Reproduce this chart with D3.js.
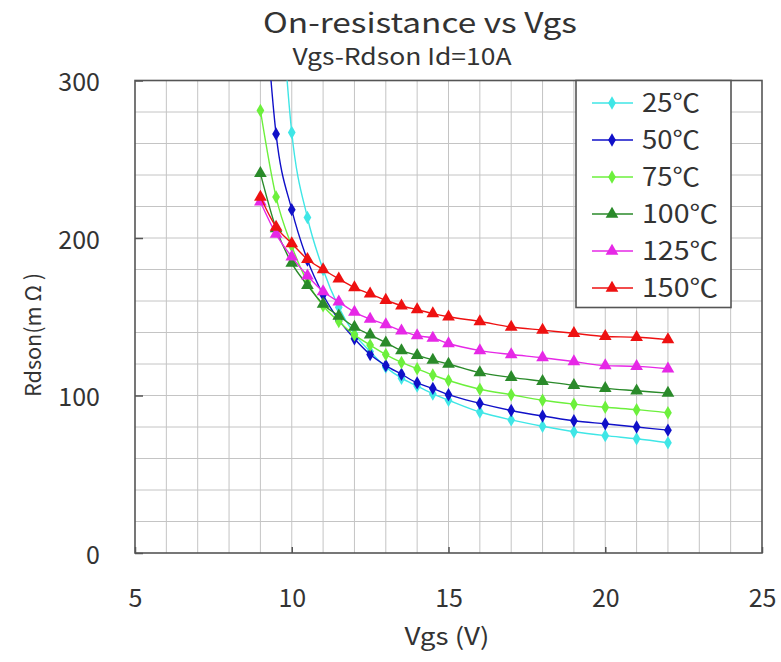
<!DOCTYPE html>
<html>
<head>
<meta charset="utf-8">
<script src="https://cdn.jsdelivr.net/npm/d3@7"></script>
<style>
  body { margin: 0; background: #fff; }
  text { font-family: "Noto Sans CJK JP", "Noto Sans", sans-serif; fill: #333; }
</style>
</head>
<body>
<div id="chart"></div>
<script>
// Vgs (V) sample points
const vgs = [9, 9.5, 10, 10.5, 11, 11.5, 12, 12.5, 13, 13.5, 14, 14.5, 15, 16, 17, 18, 19, 20, 21, 22];

// Rdson (mOhm) per temperature
const r25  = [null, 400, 267, 213, 180, 156, 139, 128, 118, 111, 106, 101, 97, 89.5, 84.5, 80.5, 77, 74.5, 72.5, 70];
const r50  = [390, 266, 218, 186, 164, 148, 136, 126, 119, 113.5, 108, 104.5, 100.5, 95, 90.5, 87, 84, 82, 80, 78];
const r75  = [281, 226, 195, 172, 157, 147, 138.5, 132, 126, 121, 117, 113, 109.5, 104, 100.5, 97, 94.5, 92.5, 91, 89];
const r100 = [241, 206, 184, 170, 158, 150.5, 143.5, 138.5, 133.5, 128.5, 125.5, 122.5, 120, 114.5, 111.5, 109, 106.5, 104.5, 103, 101.5];
const r125 = [223, 202.5, 188, 176, 166, 159.5, 153, 148.5, 145, 141, 138, 136.5, 133, 128.5, 126, 124, 121.5, 119, 118.5, 117];
const r150 = [226, 207, 196.5, 186.5, 180, 174, 168.5, 164.5, 160.5, 157, 154.5, 152, 150, 147, 143.5, 141.5, 139.5, 137.5, 137, 135.5];

const seriesNames = ['25\u2103', '50\u2103', '75\u2103', '100\u2103', '125\u2103', '150\u2103'];
const seriesValues = [r25, r50, r75, r100, r125, r150];
const colors = ['#3fe6e6', '#1010c8', '#6cf03c', '#2a8a2a', '#e628e6', '#ee1111'];
const shapes = ['diamond', 'diamond', 'diamond', 'triangle', 'triangle', 'triangle'];

const xTicks = [5, 10, 15, 20, 25];
const yTicks = [0, 100, 200, 300];

const W = 781, H = 662;
const plot = { left: 135, right: 762, top: 80.5, bottom: 553 };

const svg = d3.select('#chart').append('svg')
  .attr('width', W)
  .attr('height', H);

const x = d3.scaleLinear().domain([5, 25]).range([plot.left, plot.right]);
const y = d3.scaleLinear().domain([0, 300]).range([plot.bottom, plot.top]);

// Grid: every 1 V and every 20 mOhm
const grid = svg.append('g').attr('stroke', '#c4c4c4').attr('stroke-width', 1);
grid.selectAll('line.v')
  .data(d3.range(6, 25, 1))
  .enter().append('line')
  .attr('x1', d => x(d)).attr('x2', d => x(d))
  .attr('y1', plot.top).attr('y2', plot.bottom);
grid.selectAll('line.h')
  .data(d3.range(20, 300, 20))
  .enter().append('line')
  .attr('y1', d => y(d)).attr('y2', d => y(d))
  .attr('x1', plot.left).attr('x2', plot.right);

// Axes with inward ticks
const xAxis = svg.append('g')
  .attr('transform', `translate(0,${plot.bottom})`)
  .call(d3.axisBottom(x).tickValues(xTicks).tickSize(-6));
const yAxis = svg.append('g')
  .attr('transform', `translate(${plot.left},0)`)
  .call(d3.axisLeft(y).tickValues(yTicks).tickSize(-8).tickPadding(35));

[xAxis, yAxis].forEach(a => {
  a.select('.domain').remove();
  a.selectAll('.tick line').attr('stroke', '#555').attr('stroke-width', 1.5);
  a.selectAll('.tick text')
    .attr('font-size', 25)
    .attr('fill', '#333')
    .attr('font-family', '"Noto Sans CJK JP", sans-serif');
});
xAxis.selectAll('.tick text').attr('y', 54).attr('dy', 0);
yAxis.selectAll('.tick text').attr('dy', '0.4em');

// Frame
svg.append('rect')
  .attr('x', plot.left).attr('y', plot.top)
  .attr('width', plot.right - plot.left)
  .attr('height', plot.bottom - plot.top)
  .attr('fill', 'none')
  .attr('stroke', '#555')
  .attr('stroke-width', 1.6);

// Clip for curves
svg.append('defs').append('clipPath').attr('id', 'plotClip')
  .append('rect')
  .attr('x', plot.left).attr('y', plot.top)
  .attr('width', plot.right - plot.left)
  .attr('height', plot.bottom - plot.top);

const symbolFor = (shape) => d3.symbol()
  .type(shape === 'diamond' ? d3.symbolDiamond : d3.symbolTriangle)
  .size(shape === 'diamond' ? 52 : 70)();

const line = d3.line()
  .defined(d => d[1] != null)
  .x(d => x(d[0]))
  .y(d => y(d[1]))
  .curve(d3.curveMonotoneX);

const curves = svg.append('g').attr('clip-path', 'url(#plotClip)');
seriesValues.forEach((vals, i) => {
  const pts = vgs.map((v, j) => [v, vals[j]]);
  curves.append('path')
    .datum(pts)
    .attr('fill', 'none')
    .attr('stroke', colors[i])
    .attr('stroke-width', 1.4)
    .attr('d', line);
  curves.selectAll(null)
    .data(pts.filter(p => p[1] != null))
    .enter().append('path')
    .attr('transform', d => `translate(${x(d[0])},${y(d[1])})`)
    .attr('d', symbolFor(shapes[i]))
    .attr('fill', colors[i]);
});

// Legend
const legend = svg.append('g');
legend.append('rect')
  .attr('x', 576).attr('y', 80.5)
  .attr('width', 155).attr('height', 227)
  .attr('fill', '#fff')
  .attr('stroke', '#555')
  .attr('stroke-width', 1.6);

seriesNames.forEach((name, i) => {
  const ly = 103 + i * 37;
  const row = legend.append('g').attr('transform', `translate(0,${ly})`);
  row.append('line')
    .attr('x1', 592).attr('x2', 633)
    .attr('stroke', colors[i]).attr('stroke-width', 1.4);
  row.append('path')
    .attr('transform', 'translate(612,0)')
    .attr('d', symbolFor(shapes[i]))
    .attr('fill', colors[i]);
  row.append('text')
    .attr('x', 642).attr('y', 9)
    .attr('font-size', 25)
    .attr('textLength', name.length === 3 ? 58 : 76)
    .attr('lengthAdjust', 'spacingAndGlyphs')
    .text(name);
});

// Titles
svg.append('text')
  .attr('x', 420).attr('y', 33)
  .attr('text-anchor', 'middle')
  .attr('font-size', 28)
  .attr('textLength', 314)
  .attr('lengthAdjust', 'spacingAndGlyphs')
  .text('On-resistance vs Vgs');
svg.append('text')
  .attr('x', 402).attr('y', 65)
  .attr('text-anchor', 'middle')
  .attr('font-size', 23)
  .attr('textLength', 219)
  .attr('lengthAdjust', 'spacingAndGlyphs')
  .text('Vgs-Rdson Id=10A');

// Axis titles
svg.append('text')
  .attr('x', 447).attr('y', 645)
  .attr('text-anchor', 'middle')
  .attr('font-size', 24)
  .attr('textLength', 85)
  .attr('lengthAdjust', 'spacingAndGlyphs')
  .text('Vgs (V)');
svg.append('text')
  .attr('transform', 'translate(41,335) rotate(-90)')
  .attr('text-anchor', 'middle')
  .attr('font-size', 22)
  .attr('textLength', 124)
  .attr('lengthAdjust', 'spacingAndGlyphs')
  .text('Rdson(m \u03A9 )');
</script>
</body>
</html>
